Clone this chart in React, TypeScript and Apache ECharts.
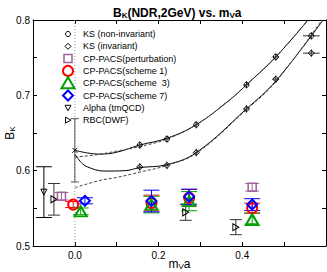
import React, { useEffect, useRef } from "react";
import * as echarts from "echarts";

// ---- data ----
const ksX = [0.155, 0.22, 0.29, 0.41, 0.48, 0.565];
const ksNonInv = [0.634, 0.642, 0.661, 0.714, 0.751, 0.779];
const ksInv = [0.605, 0.607, 0.624, 0.682, 0.7215, 0.756];
const ksYErr = [0.005, 0.005, 0.005, 0.005, 0.005, 0.005];
const ksXErr = [0.004, 0.004, 0.004, 0.006, 0.008, 0.02];

// chiral extrapolation (x mark with error bar)
const chiralX = [0];
const chiralY = [0.627];
const chiralErr = [0.042];

// fit curves
const fitUpperSolidX = [0, 0.03, 0.06, 0.1, 0.155, 0.22, 0.29, 0.37, 0.41, 0.48, 0.557];
const fitUpperSolidY = [0.627, 0.6235, 0.622, 0.6245, 0.634, 0.643, 0.661, 0.694, 0.714, 0.751, 0.8];
const fitUpperDashX = [0, 0.05, 0.1, 0.155, 0.22, 0.29, 0.37, 0.41, 0.48, 0.557];
const fitUpperDashY = [0.618, 0.621, 0.626, 0.632, 0.642, 0.661, 0.694, 0.714, 0.751, 0.8];
const fitLowerSolidX = [0, 0.015, 0.03, 0.07, 0.12, 0.155, 0.22, 0.29, 0.41, 0.48, 0.593];
const fitLowerSolidY = [0.622, 0.611, 0.605, 0.5995, 0.6, 0.604, 0.608, 0.624, 0.682, 0.719, 0.8];
const fitLowerDashX = [0, 0.06, 0.1, 0.155, 0.22, 0.29, 0.41, 0.48, 0.59];
const fitLowerDashY = [0.5775, 0.587, 0.591, 0.598, 0.607, 0.623, 0.681, 0.718, 0.8];

// CP-PACS
const pertX = [-0.032, 0.4236];
const pertY = [0.566, 0.578];
const pertErr = [0.005, 0.005];
const s1X = [-0.004, 0.183, 0.273, 0.4236];
const s1Y = [0.555, 0.557, 0.564, 0.5502];
const s1Err = [0.004, 0.0105, 0.011, 0.0066];
const s3X = [0.014, 0.183, 0.273, 0.4236];
const s3Y = [0.546, 0.555, 0.5595, 0.5355];
const s3Err = [0.0045, 0.011, 0.0127, 0.0083];
const s7X = [0.024, 0.183, 0.273, 0.4236];
const s7Y = [0.56, 0.5597, 0.5655, 0.555];
const s7Err = [0.004, 0.0144, 0.01, 0.0078];

// Alpha (tmQCD)
const alphaX = [-0.074];
const alphaY = [0.5715];
const alphaErr = [0.0337];
// RBC (DWF)
const rbcX = [-0.05, 0.2648, 0.3846];
const rbcY = [0.562, 0.5447, 0.525];
const rbcErr = [0.021, 0.0106, 0.01];

const FONT = '"Liberation Sans", Arial, Helvetica, sans-serif';

const RED = "#ff0000";
const GREEN = "#00a000";
const BLUE = "#0000ff";
const PURPLE = "#a0609a";

function pairs(xs: number[], ys: number[]) {
  return xs.map((x, i) => [x, ys[i]]);
}

function errData(xs: number[], ys: number[], es: number[], xes?: number[]) {
  return xs.map((x, i) => [x, ys[i], es[i], xes ? xes[i] : 0]);
}

function errRender(capHalf: number, color: string, lw: number) {
  return (params: any, api: any) => {
    const x = api.value(0);
    const y = api.value(1);
    const e = api.value(2);
    const xe = api.value(3);
    const children: any[] = [];
    const st = { stroke: color, lineWidth: lw, fill: "none" };
    if (e > 0) {
      const t = api.coord([x, y + e]);
      const b = api.coord([x, y - e]);
      children.push({ type: "line", shape: { x1: t[0], y1: t[1], x2: b[0], y2: b[1] }, style: st });
      if (capHalf > 0) {
        children.push({ type: "line", shape: { x1: t[0] - capHalf, y1: t[1], x2: t[0] + capHalf, y2: t[1] }, style: st });
        children.push({ type: "line", shape: { x1: b[0] - capHalf, y1: b[1], x2: b[0] + capHalf, y2: b[1] }, style: st });
      }
    }
    if (xe > 0) {
      const l = api.coord([x - xe, y]);
      const r = api.coord([x + xe, y]);
      children.push({ type: "line", shape: { x1: l[0], y1: l[1], x2: r[0], y2: r[1] }, style: st });
    }
    return { type: "group", children };
  };
}

function errSeries(name: string, data: any[], cap: number, color: string, lw = 1) {
  return {
    name,
    type: "custom",
    xAxisIndex: 0,
    yAxisIndex: 0,
    data,
    renderItem: errRender(cap, color, lw),
    clip: true,
    silent: true,
    z: 3,
  };
}

function scatter(name: string, data: any[], symbol: string, size: any, color: string, bw: number, z = 4) {
  return {
    name,
    type: "scatter",
    xAxisIndex: 0,
    yAxisIndex: 0,
    data,
    symbol,
    symbolSize: size,
    itemStyle: { color: "rgba(0,0,0,0)", borderColor: color, borderWidth: bw, opacity: 1 },
    z,
    silent: true,
  };
}

function curve(name: string, xs: number[], ys: number[], dashed: boolean) {
  return {
    name,
    type: "line",
    xAxisIndex: 0,
    yAxisIndex: 0,
    data: pairs(xs, ys),
    smooth: 0.4,
    showSymbol: false,
    symbol: "none",
    clip: true,
    lineStyle: { color: dashed ? "#444" : "#000", width: 1, type: dashed ? [3, 2] : "solid" },
    z: 2,
    silent: true,
  };
}

const legendRows = [
  "KS (non-invariant)",
  "KS (invariant)",
  "CP-PACS(perturbation)",
  "CP-PACS(scheme 1)",
  "CP-PACS(scheme  3)",
  "CP-PACS(scheme 7)",
  "Alpha (tmQCD)",
  "RBC(DWF)",
];

function legendGraphics() {
  const x0 = 68;
  const tx = 83;
  const ys = [34, 46.3, 58.6, 70.9, 83.2, 95.5, 107.8, 120.1];
  const g: any[] = [];
  legendRows.forEach((t, i) => {
    g.push({
      type: "text",
      x: tx,
      y: ys[i],
      style: { text: t, fontSize: 9, fontFamily: FONT, fill: "#000", verticalAlign: "middle", align: "left" },
    });
  });
  g.push({ type: "circle", shape: { cx: x0, cy: ys[0], r: 2.5 }, style: { fill: "none", stroke: "#000", lineWidth: 1 } });
  g.push({
    type: "polygon",
    shape: { points: [[x0, ys[1] - 3], [x0 + 3, ys[1]], [x0, ys[1] + 3], [x0 - 3, ys[1]]] },
    style: { fill: "none", stroke: "#000", lineWidth: 1 },
  });
  g.push({ type: "rect", shape: { x: x0 - 4, y: ys[2] - 4, width: 8, height: 8 }, style: { fill: "none", stroke: PURPLE, lineWidth: 1.5 } });
  g.push({ type: "circle", shape: { cx: x0, cy: ys[3], r: 5 }, style: { fill: "none", stroke: RED, lineWidth: 2 } });
  g.push({
    type: "polygon",
    shape: { points: [[x0, ys[4] - 6], [x0 + 6.5, ys[4] + 5], [x0 - 6.5, ys[4] + 5]] },
    style: { fill: "none", stroke: GREEN, lineWidth: 2 },
  });
  g.push({
    type: "polygon",
    shape: { points: [[x0, ys[5] - 5], [x0 + 5, ys[5]], [x0, ys[5] + 5], [x0 - 5, ys[5]]] },
    style: { fill: "none", stroke: BLUE, lineWidth: 2 },
  });
  g.push({
    type: "polygon",
    shape: { points: [[x0 - 3, ys[6] - 2.5], [x0 + 3, ys[6] - 2.5], [x0, ys[6] + 3]] },
    style: { fill: "none", stroke: "#000", lineWidth: 1 },
  });
  g.push({
    type: "polygon",
    shape: { points: [[x0 - 2.5, ys[7] - 3], [x0 + 3, ys[7]], [x0 - 2.5, ys[7] + 3]] },
    style: { fill: "none", stroke: "#000", lineWidth: 1 },
  });
  return g;
}

export default function App() {
  const ref = useRef<HTMLDivElement>(null);
  useEffect(() => {
    if (!ref.current) return;
    const chart = echarts.init(ref.current, null, { renderer: "svg" });
    const tickStyle = { show: true, inside: true, length: 4, lineStyle: { color: "#000", width: 1 } };
    const axisLine = { show: true, onZero: false, lineStyle: { color: "#000", width: 1 } };
    const rich = {
      n: { fontSize: 12, fontFamily: FONT, color: "#000", lineHeight: 13 },
      s: { fontSize: 8, fontFamily: FONT, color: "#000", lineHeight: 13, padding: [5, 0, 0, 0] },
    };
    const option: any = {
      animation: false,
      backgroundColor: "#fff",
      title: {
        text: "{n|B}{s|K}{n|(NDR,2GeV) vs. m}{s|V}{n|a}",
        left: 108,
        top: 1,
        textStyle: { rich },
      },
      grid: { left: 33, right: 1, top: 20, bottom: 26, containLabel: false, outerBoundsMode: "none" },
      xAxis: [
        {
          type: "value",
          min: -0.1,
          max: 0.6,
          interval: 0.1,
          position: "bottom",
          axisLine,
          axisTick: tickStyle,
          splitLine: { show: false },
          axisLabel: {
            fontSize: 10,
            fontFamily: FONT,
            color: "#000",
            margin: 4,
            formatter: (v: number) => {
              const r = Math.round(v * 10);
              return r >= 0 && r < 6 && r % 2 === 0 ? (r / 10).toFixed(1) : "";
            },
          },
          name: "{n|m}{s|V}{n|a}",
          nameLocation: "middle",
          nameGap: 11,
          nameMoveOverlap: false,
          nameTextStyle: { rich },
        },
        {
          type: "value",
          min: -0.1,
          max: 0.6,
          interval: 0.1,
          position: "top",
          axisLine,
          axisTick: tickStyle,
          splitLine: { show: false },
          axisLabel: { show: false },
        },
      ],
      yAxis: [
        {
          type: "value",
          min: 0.5,
          max: 0.8,
          interval: 0.05,
          position: "left",
          axisLine,
          axisTick: tickStyle,
          splitLine: { show: false },
          axisLabel: {
            fontSize: 10,
            fontFamily: FONT,
            color: "#000",
            margin: 3,
            formatter: (v: number) => {
              const r = Math.round(v * 100);
              return r % 10 === 0 ? (r / 100).toFixed(1) : "";
            },
          },
          name: "{n|B}{s|K}",
          nameLocation: "middle",
          nameGap: 17,
          nameRotate: 90,
          nameMoveOverlap: false,
          nameTextStyle: { rich },
        },
        {
          type: "value",
          min: 0.5,
          max: 0.8,
          interval: 0.05,
          position: "right",
          axisLine,
          axisTick: tickStyle,
          splitLine: { show: false },
          axisLabel: { show: false },
        },
      ],
      graphic: legendGraphics(),
      series: [
        {
          name: "zero",
          type: "line",
          xAxisIndex: 0,
          yAxisIndex: 0,
          data: [[0, 0.5], [0, 0.8]],
          showSymbol: false,
          symbol: "none",
          lineStyle: { color: "#999", width: 1, type: [1, 2] },
          z: 1,
          silent: true,
        },
        curve("fitA", fitUpperSolidX, fitUpperSolidY, false),
        curve("fitB", fitUpperDashX, fitUpperDashY, true),
        curve("fitC", fitLowerSolidX, fitLowerSolidY, false),
        curve("fitD", fitLowerDashX, fitLowerDashY, true),
        errSeries("chiralErr", errData(chiralX, chiralY, chiralErr), 4, "#555", 1),
        scatter("chiral", pairs(chiralX, chiralY), "path://M0,0L10,10M10,0L0,10", 5, "#000", 1),
        errSeries("ksNonErr", errData(ksX, ksNonInv, ksYErr, ksXErr), 0, "#333", 1),
        errSeries("ksInvErr", errData(ksX, ksInv, ksYErr, ksXErr), 0, "#333", 1),
        scatter("KS (non-invariant)", pairs(ksX, ksNonInv), "circle", 5, "#000", 1),
        scatter("KS (invariant)", pairs(ksX, ksInv), "diamond", 6, "#000", 1),
        errSeries("alphaErr", errData(alphaX, alphaY, alphaErr), 8, "#000", 1),
        scatter("Alpha (tmQCD)", pairs(alphaX, alphaY), "path://M0,0L10,0L5,9Z", [6, 6], "#000", 1),
        errSeries("rbcErr", errData(rbcX, rbcY, rbcErr), 6, "#333", 1),
        scatter("RBC(DWF)", pairs(rbcX, rbcY), "path://M0,0L9,5L0,10Z", [6, 7], "#000", 1),
        errSeries("pertErr", errData(pertX, pertY, pertErr), 7, PURPLE, 1),
        scatter("CP-PACS(perturbation)", pairs(pertX, pertY), "rect", 8, PURPLE, 1.5),
        errSeries("s1Err", errData(s1X, s1Y, s1Err), 8, RED, 1),
        errSeries("s3Err", errData(s3X, s3Y, s3Err), 8, GREEN, 1),
        errSeries("s7Err", errData(s7X, s7Y, s7Err), 8, BLUE, 1),
        scatter("CP-PACS(scheme 1)", pairs(s1X, s1Y), "circle", 10, RED, 2, 5),
        scatter("CP-PACS(scheme 3)", pairs(s3X, s3Y), "triangle", [12, 10], GREEN, 2, 5),
        scatter("CP-PACS(scheme 7)", pairs(s7X, s7Y), "diamond", 10, BLUE, 2, 6),
      ],
    };
    chart.setOption(option);
    return () => chart.dispose();
  }, []);
  return (
    <div
      ref={ref}
      style={{ position: "fixed", left: 0, top: 0, width: 327, height: 272, background: "#fff" }}
    />
  );
}
